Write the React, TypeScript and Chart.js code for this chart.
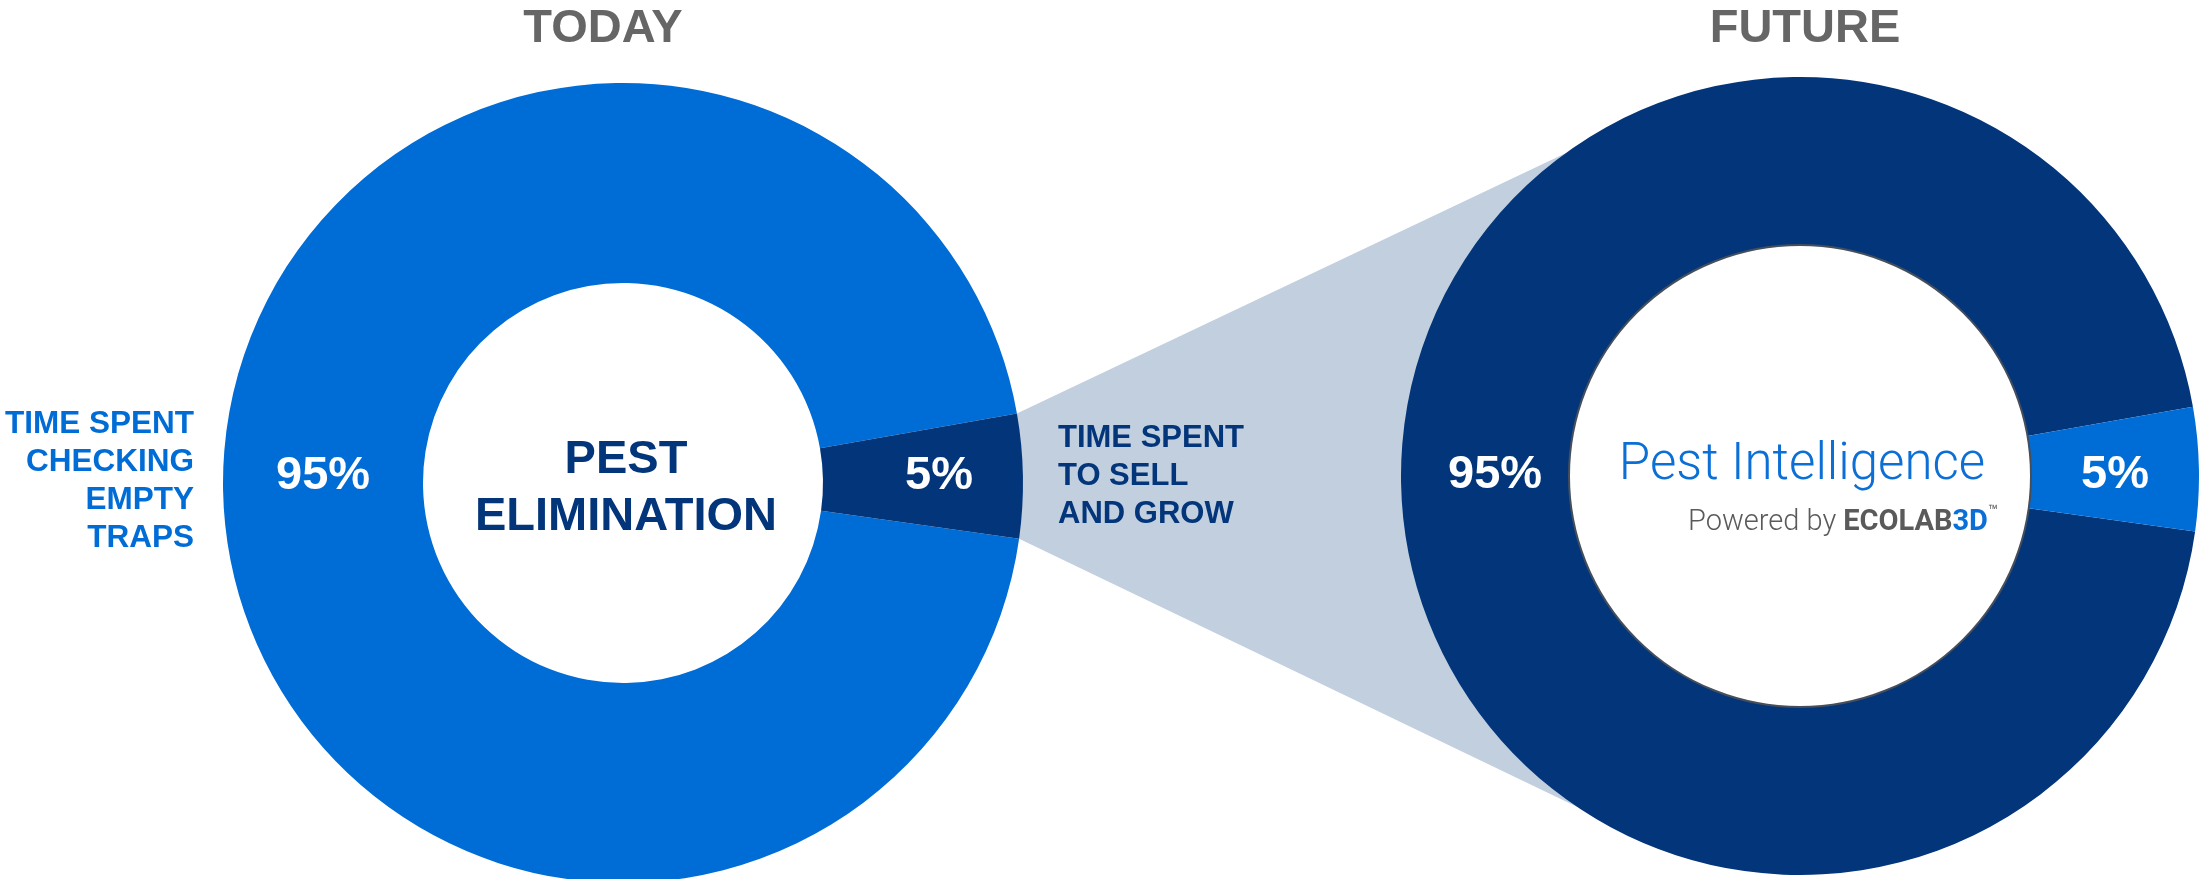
import React, { useEffect, useRef } from 'react';
import { Chart, registerables } from 'chart.js';

Chart.register(...registerables);

// Segment order: the big slice first, then the small one
const segments = ['Time spent checking empty traps', 'Time spent to sell and grow'];
const todayValues = [95, 5];
const futureValues = [95, 5];
const todayColors = ['#006cd6', '#03357a'];
const futureColors = ['#03357a', '#006cd6'];

// Geometry of the two rings (page pixels)
const PAGE_W = 2202;
const PAGE_H = 879;
const TODAY_CX = 623;
const TODAY_CY = 483;
const TODAY_R = 400;
const FUTURE_CX = 1800;
const FUTURE_CY = 476;
const FUTURE_R = 399;
const FUTURE_CUTOUT = 231 / 399;

const SANS = '"Liberation Sans", Arial, sans-serif';
const LIGHT = 'Roboto, "Noto Sans", sans-serif';

// font metrics used to put a baseline where we want it
const METRICS: Record<string, { asc: number; desc: number }> = {
  sans: { asc: 0.905, desc: 0.212 },
  roboto: { asc: 0.928, desc: 0.244 },
};

// white "95%" / "5%" in the middle of each ring slice, on the centre line
const sliceLabels = {
  id: 'sliceLabels',
  afterDatasetsDraw(chart: any, _args: any, opts: any) {
    const { ctx } = chart;
    const meta = chart.getDatasetMeta(0);
    const values = chart.data.datasets[0].data as number[];
    const dx: number[] = opts.dx || [];
    ctx.save();
    ctx.fillStyle = '#ffffff';
    ctx.font = `bold 47px ${SANS}`;
    ctx.textAlign = 'center';
    ctx.textBaseline = 'alphabetic';
    meta.data.forEach((arc: any, i: number) => {
      const p = arc.getProps(['x', 'y', 'startAngle', 'endAngle', 'innerRadius', 'outerRadius'], true);
      const mid = (p.startAngle + p.endAngle) / 2;
      const r = (p.innerRadius + p.outerRadius) / 2;
      ctx.fillText(`${values[i]}%`, p.x + r * Math.cos(mid) + (dx[i] || 0), p.y + (opts.dy || 0));
    });
    ctx.restore();
  },
};

// grey-blue wedge from the small TODAY slice over to the FUTURE ring
const funnel = {
  id: 'funnel',
  beforeDatasetsDraw(chart: any) {
    const { ctx } = chart;
    const arc = chart.getDatasetMeta(0).data[1];
    if (!arc) return;
    const p = arc.getProps(['x', 'y', 'startAngle', 'endAngle', 'outerRadius'], true);
    const onFuture = (deg: number, r: number) => {
      const a = (deg * Math.PI) / 180;
      return [FUTURE_CX + r * Math.cos(a), FUTURE_CY + r * Math.sin(a)];
    };
    const ringMid = (FUTURE_R * (1 + FUTURE_CUTOUT)) / 2;
    const pts = [
      [p.x + p.outerRadius * Math.cos(p.startAngle), p.y + p.outerRadius * Math.sin(p.startAngle)],
      onFuture(234, FUTURE_R),
      onFuture(234, FUTURE_R - 40),
      onFuture(180, ringMid),
      onFuture(124, FUTURE_R - 40),
      onFuture(124, FUTURE_R),
      [p.x + p.outerRadius * Math.cos(p.endAngle), p.y + p.outerRadius * Math.sin(p.endAngle)],
    ];
    ctx.save();
    ctx.fillStyle = '#c1cfdf';
    ctx.beginPath();
    pts.forEach(([x, y], i) => (i === 0 ? ctx.moveTo(x, y) : ctx.lineTo(x, y)));
    ctx.closePath();
    ctx.fill();
    ctx.restore();
  },
};

// thin dark rim round the FUTURE hole
const holeRim = {
  id: 'holeRim',
  afterDatasetsDraw(chart: any) {
    const arc = chart.getDatasetMeta(0).data[0];
    if (!arc) return;
    const p = arc.getProps(['x', 'y', 'innerRadius'], true);
    const { ctx } = chart;
    ctx.save();
    ctx.strokeStyle = '#454f5c';
    ctx.lineWidth = 2;
    ctx.beginPath();
    ctx.arc(p.x, p.y, p.innerRadius, 0, Math.PI * 2);
    ctx.stroke();
    ctx.restore();
  },
};

interface DonutProps {
  values: number[];
  colors: string[];
  cutout: string;
  left: number;
  top: number;
  width: number;
  height: number;
  padding: { left: number; top: number; right: number; bottom: number };
  labelDy: number;
  labelDx: number[];
  extra: any[];
}

const Donut: React.FC<DonutProps> = ({ values, colors, cutout, left, top, width, height, padding, labelDy, labelDx, extra }) => {
  const chartRef = useRef<HTMLCanvasElement>(null);

  useEffect(() => {
    if (!chartRef.current) return;
    const chart = new Chart(chartRef.current, {
      type: 'doughnut',
      data: {
        labels: segments,
        datasets: [
          {
            data: values,
            backgroundColor: colors,
            borderWidth: 0,
            hoverOffset: 0,
            offset: 0,
          },
        ],
      },
      options: {
        responsive: false,
        animation: false,
        events: [],
        rotation: 98,
        cutout,
        layout: { padding },
        plugins: {
          legend: { display: false },
          tooltip: { enabled: false },
          sliceLabels: { dy: labelDy, dx: labelDx },
        } as any,
      },
      plugins: [...extra, sliceLabels],
    });
    return () => chart.destroy();
  }, []);

  return (
    <canvas
      ref={chartRef}
      width={width}
      height={height}
      style={{ position: 'absolute', left, top, width, height }}
    />
  );
};

interface TextProps {
  x: number;
  baseline: number;
  size: number;
  lineHeight?: number;
  align: 'left' | 'right' | 'center';
  font: string;
  metrics: { asc: number; desc: number };
  weight?: number;
  color: string;
  children: React.ReactNode;
}

const Text: React.FC<TextProps> = ({ x, baseline, size, lineHeight, align, font, metrics, weight = 700, color, children }) => {
  const lh = lineHeight ?? size;
  const top = baseline - ((lh - (metrics.asc + metrics.desc) * size) / 2 + metrics.asc * size);
  const box = 1200;
  const left = align === 'left' ? x : align === 'right' ? x - box : x - box / 2;
  return (
    <div
      style={{
        position: 'absolute',
        left,
        top,
        width: box,
        textAlign: align,
        fontFamily: font,
        fontWeight: weight,
        fontSize: size,
        lineHeight: `${lh}px`,
        color,
        whiteSpace: 'nowrap',
      }}
    >
      {children}
    </div>
  );
};

export default function App() {
  const todayH = TODAY_CY + TODAY_R + 1;
  return (
    <div
      style={{
        position: 'fixed',
        left: 0,
        top: 0,
        width: PAGE_W,
        height: PAGE_H,
        overflow: 'hidden',
        background: '#ffffff',
      }}
    >
      <Donut
        values={todayValues}
        colors={todayColors}
        cutout="50%"
        left={0}
        top={0}
        width={PAGE_W}
        height={todayH}
        padding={{
          left: TODAY_CX - TODAY_R,
          top: TODAY_CY - TODAY_R,
          right: PAGE_W - (TODAY_CX + TODAY_R),
          bottom: todayH - (TODAY_CY + TODAY_R),
        }}
        labelDy={6}
        labelDx={[0, 16]}
        extra={[funnel]}
      />
      <Donut
        values={futureValues}
        colors={futureColors}
        cutout={`${FUTURE_CUTOUT * 100}%`}
        left={FUTURE_CX - FUTURE_R}
        top={FUTURE_CY - FUTURE_R}
        width={FUTURE_R * 2}
        height={FUTURE_R * 2}
        padding={{ left: 0, top: 0, right: 0, bottom: 0 }}
        labelDy={12}
        labelDx={[10, 0]}
        extra={[holeRim]}
      />

      <Text x={603} baseline={42} size={47} align="center" font={SANS} metrics={METRICS.sans} color="#666666">
        TODAY
      </Text>
      <Text x={1805} baseline={42} size={47} align="center" font={SANS} metrics={METRICS.sans} color="#666666">
        FUTURE
      </Text>

      <Text x={194} baseline={433} size={31.5} lineHeight={38} align="right" font={SANS} metrics={METRICS.sans} color="#006cd6">
        TIME SPENT
        <br />
        CHECKING
        <br />
        EMPTY
        <br />
        TRAPS
      </Text>

      <Text x={1058} baseline={448} size={31} lineHeight={38} align="left" font={SANS} metrics={METRICS.sans} color="#03357a">
        TIME SPENT
        <br />
        TO SELL
        <br />
        AND GROW
      </Text>

      <Text x={626} baseline={473} size={47} lineHeight={57} align="center" font={SANS} metrics={METRICS.sans} color="#03357a">
        PEST
        <br />
        ELIMINATION
      </Text>

      <Text x={1802} baseline={479} size={51} align="center" font={LIGHT} metrics={METRICS.roboto} weight={300} color="#0b6fd6">
        Pest Intelligence
      </Text>
      <Text x={1998} baseline={520} size={29} align="right" font={LIGHT} metrics={METRICS.roboto} weight={300} color="#5a5a5a">
        Powered by <span style={{ fontWeight: 700 }}>ECOLAB</span>
        <span style={{ fontWeight: 700, color: '#0b6fd6' }}>3D</span>
        <span style={{ fontSize: 16, verticalAlign: 14, fontWeight: 400 }}>™</span>
      </Text>
    </div>
  );
}
